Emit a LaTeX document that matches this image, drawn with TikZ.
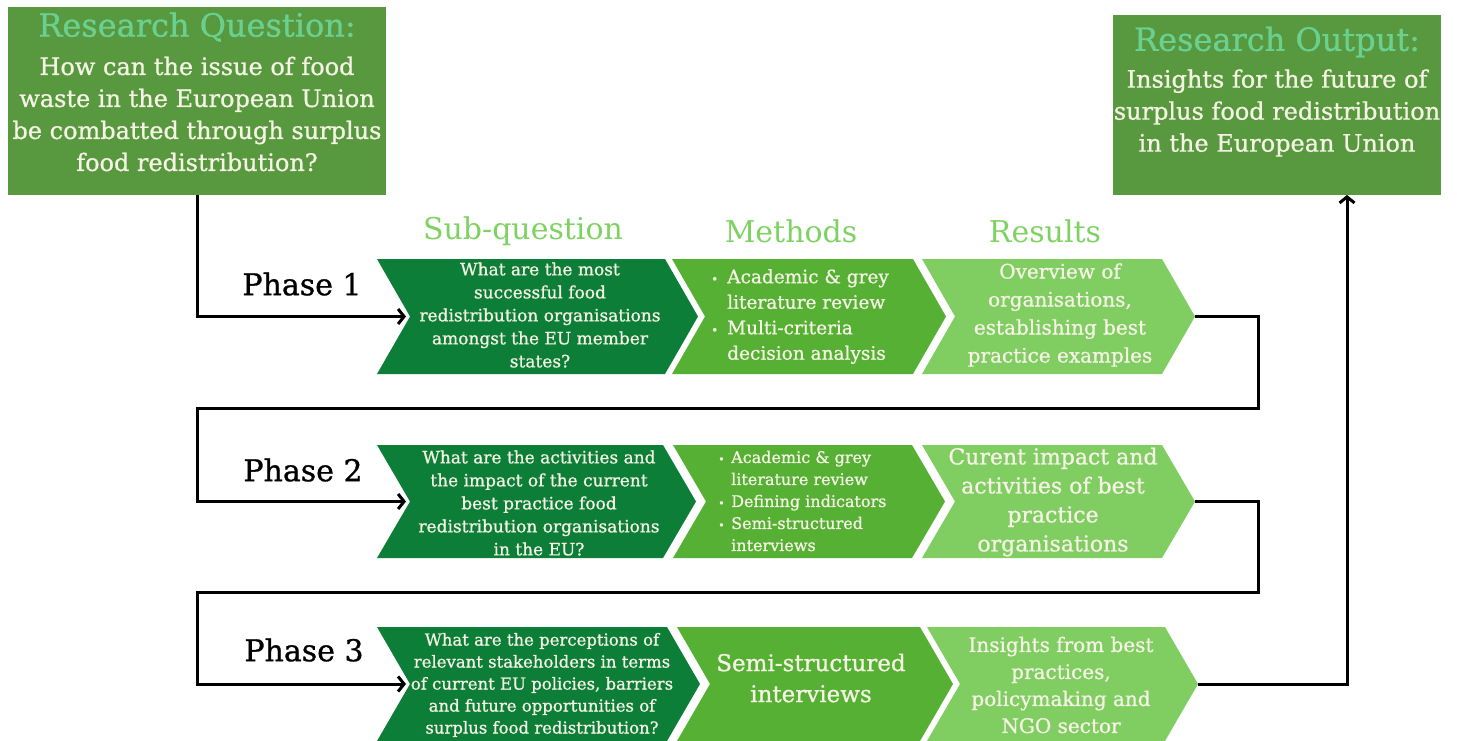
\documentclass[tikz,border=0pt]{standalone}
\usepackage{fontspec}
\setmainfont{DejaVu Serif}[FakeBold=0.9]
\newfontfamily\plainfont{DejaVu Serif}
\usetikzlibrary{arrows.meta}
\definecolor{boxgreen}{RGB}{88,152,62}
\definecolor{titlemint}{RGB}{106,208,144}
\definecolor{hdrgreen}{RGB}{126,210,98}
\definecolor{chdark}{RGB}{12,126,56}
\definecolor{chmid}{RGB}{86,176,52}
\definecolor{chlight}{RGB}{128,205,98}
\definecolor{cream}{RGB}{244,243,228}
\newcommand\mychev[6]{%
  \fill[#1] (#2,#4) -- (#3,#4) -- ({#3+33},{(#4+#5)/2}) -- (#3,#5) -- (#2,#5) -- ({#2+33},{(#4+#5)/2}) -- cycle;
  \coordinate (#6tip) at ({#3+33},{(#4+#5)/2});
  \coordinate (#6notch) at ({#2+33},{(#4+#5)/2});
}
\newcommand\bulA{\makebox[16pt][l]{\fontsize{12}{12}\selectfont\textbullet}}
\newcommand\bulB{\makebox[13pt][l]{\fontsize{11}{11}\selectfont\textbullet}}
\begin{document}
\begin{tikzpicture}[x=1pt,y=-1pt,
  txt/.style={text=cream, inner sep=0pt, align=center},
  hdr/.style={text=hdrgreen, inner sep=0pt, font=\plainfont\fontsize{30}{36}\selectfont},
  phase/.style={text=black, inner sep=0pt, font=\fontsize{30}{36}\selectfont},
  bigbox/.style={fill=boxgreen, inner sep=0pt},
  boxtitle/.style={text=titlemint, inner sep=0pt, font=\fontsize{32}{36}\selectfont},
  conn/.style={line width=3pt, line join=miter, draw=black},
  arr/.style={conn, -{Straight Barb[length=6pt,width=15pt]}, shorten >=4pt}]
\useasboundingbox (0,0) rectangle (1457,740);

% top boxes
\node[bigbox, minimum width=378pt, minimum height=188pt] (rq) at (197,101) {};
\node[boxtitle] (rqt) at (197,27) {Research Question:};
\node[txt, font=\fontsize{24}{32}\selectfont] (rqb) at (197,114) {How can the issue of food\\waste in the European Union\\be combatted through surplus\\food redistribution?};

\node[bigbox, minimum width=328pt, minimum height=180pt] (ro) at (1277,105) {};
\node[boxtitle] (rot) at (1277,42) {Research Output:};
\node[txt, font=\fontsize{24}{32}\selectfont] (rob) at (1277,113) {Insights for the future of\\surplus food redistribution\\in the European Union};

% headers
\node[hdr] (h1) at (523,231) {Sub-question};
\node[hdr] (h2) at (791,231) {Methods};
\node[hdr] (h3) at (1045,231) {Results};

% phase labels
\node[phase] (p1) at (302,284) {Phase 1};
\node[phase] (p2) at (303,470) {Phase 2};
\node[phase] (p3) at (304,650) {Phase 3};

% chevrons
\mychev{chdark}{377}{665}{259}{374}{a1}
\mychev{chmid}{672}{913}{259}{374}{b1}
\mychev{chlight}{922}{1162}{259}{374}{c1}

\mychev{chdark}{377}{663}{445}{558}{a2}
\mychev{chmid}{673}{912}{445}{558}{b2}
\mychev{chlight}{922}{1162}{445}{558}{c2}

\mychev{chdark}{377}{667}{627}{741}{a3}
\mychev{chmid}{677}{920}{627}{741}{b3}
\mychev{chlight}{927}{1165}{627}{741}{c3}

% row 1 texts
\node[txt, font=\fontsize{17}{23}\selectfont] (q1) at (540,315) {What are the most\\successful food\\redistribution organisations\\amongst the EU member\\states?};
\node[txt, align=left, anchor=west, font=\fontsize{18.5}{25.5}\selectfont] (m1) at (711,316.5) {\bulA Academic \& grey\\\hphantom{\bulA}literature review\\\bulA Multi-criteria\\\hphantom{\bulA}decision analysis};
\node[txt, font=\fontsize{20}{28}\selectfont] (r1) at (1060,315) {Overview of\\organisations,\\establishing best\\practice examples};

% row 2 texts
\node[txt, font=\fontsize{17}{23}\selectfont] (q2) at (539,503) {What are the activities and\\the impact of the current\\best practice food\\redistribution organisations\\in the EU?};
\node[txt, align=left, anchor=west, font=\fontsize{16}{22}\selectfont] (m2) at (718,501) {\bulB Academic \& grey\\\hphantom{\bulB}literature review\\\bulB Defining indicators\\\bulB Semi-structured\\\hphantom{\bulB}interviews};
\node[txt, font=\fontsize{22}{29}\selectfont] (r2) at (1053,502) {Curent impact and\\activities of best\\practice\\organisations};

% row 3 texts
\node[txt, font=\fontsize{16.5}{22}\selectfont] (q3) at (542,685) {What are the perceptions of\\relevant stakeholders in terms\\of current EU policies, barriers\\and future opportunities of\\surplus food redistribution?};
\node[txt, font=\fontsize{23}{31}\selectfont] (m3) at (811,678) {Semi-structured\\interviews};
\node[txt, font=\fontsize{20}{27}\selectfont] (r3) at (1061,685) {Insights from best\\practices,\\policymaking and\\NGO sector};

% connector bend points
\coordinate (k1) at (1258,408);
\coordinate (k2) at (197,408);
\coordinate (k3) at (1258,592);
\coordinate (k4) at (197,592);
\coordinate (roin) at (1347,195);

% connectors
\draw[arr] (rq.south) |- (a1notch);
\draw[arr] (c1tip) -| (k1) -- (k2) |- (a2notch);
\draw[arr] (c2tip) -| (k3) -- (k4) |- (a3notch);
\draw[conn, -{Straight Barb[length=6pt,width=15pt]}] (c3tip) -| (roin);
\end{tikzpicture}
\end{document}
